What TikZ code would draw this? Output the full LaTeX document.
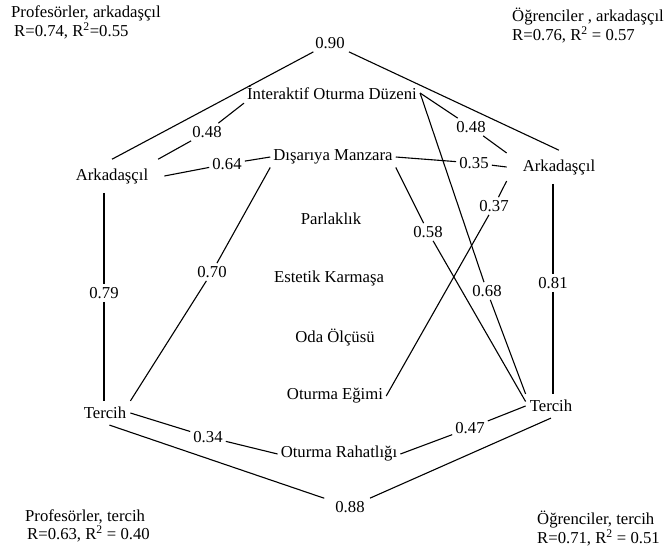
\documentclass[tikz,border=0pt]{standalone}
\usepackage{fontspec}
\setmainfont{Liberation Serif}

\begin{document}
\begin{tikzpicture}[x=1pt,y=-1pt,
	every node/.style={font=\fontsize{16.7}{17.5}\selectfont},
	factor/.style={inner xsep=3pt,inner ysep=3pt},
	side/.style={inner xsep=16pt,inner ysep=9pt},
	pref/.style={inner xsep=4pt,inner ysep=6pt},
	coef/.style={inner sep=3pt},
	corner/.style={anchor=north west,align=left,inner sep=0pt},
	link/.style={line width=1.1pt}]

	\useasboundingbox (0,0) rectangle (672,554);

	% outer factors
	\node[side] (lark) at (112,176) {Arkadaşçıl};
	\node[pref] (lter) at (105,413) {Tercih};
	\node[side] (rark) at (559,167) {Arkadaşçıl};
	\node[pref] (rter) at (551,406) {Tercih};

	% inner factors
	\node[factor] (inter) at (332,93) {İnteraktif Oturma Düzeni};
	\node[factor] (dis) at (333,157) {Dışarıya Manzara};
	\node[factor] (parl) at (331,219) {Parlaklık};
	\node[factor] (est) at (329,278) {Estetik Karmaşa};
	\node[factor] (oda) at (335,338) {Oda Ölçüsü};
	\node[factor] (egim) at (335,396) {Oturma Eğimi};
	\node[factor] (rah) at (339,454) {Oturma Rahatlığı};

	% coefficients
	\node[coef,inner xsep=14pt] (c90) at (330,43) {0.90};
	\node[coef,inner xsep=11pt] (c88) at (350,507) {0.88};
	\node[coef] (c79) at (104,293) {0.79};
	\node[coef] (c81) at (553,283) {0.81};
	\node[coef] (c48a) at (207,132) {0.48};
	\node[coef] (c64) at (227,164) {0.64};
	\node[coef] (c70) at (212,272) {0.70};
	\node[coef] (c48b) at (471,127) {0.48};
	\node[coef] (c35) at (474,163) {0.35};
	\node[coef] (c37) at (494,206) {0.37};
	\node[coef] (c58) at (428,232) {0.58};
	\node[coef] (c68) at (487,291) {0.68};
	\node[coef] (c34) at (208,437) {0.34};
	\node[coef] (c47) at (470,428) {0.47};

	% hexagon
	\draw[link] (lark.north) -- (c90) -- (rark.north);
	\draw[link] (c79 |- lark.south) -- (c79) -- (c79 |- lter.north);
	\draw[link] (c81 |- rark.south) -- (c81) -- (c81 |- rter.north);
	\draw[link] (lter.-70) -- (c88) -- (rter.south);

	% paths
	\draw[link] (inter.south west) -- (c48a) -- (lark.20);
	\draw[link] (dis.west) -- (c64) -- (lark.east);
	\draw[link] (dis.south west) -- (c70) -- (lter.north east);
	\draw[link] (inter.east) -- (c48b) -- (rark.165);
	\draw[link] (dis.east) -- (c35) -- (rark.west);
	\draw[link] (rark.195) -- (c37) -- (egim.east);
	\draw[link] (inter.east) -- (c68) -- (rter.north west);
	\draw[link] (dis.south east) -- (c58) -- (rter.170);
	\draw[link] (lter.east) -- (c34) -- (rah.west);
	\draw[link] (rah.east) -- (c47) -- (rter.west);

	% model fit
	\node[corner] (tl) at (11,6) {Profesörler, arkadaşçıl\\\hspace{3pt}R=0.74, R\textsuperscript{2}=0.55};
	\node[corner] (tr) at (512,8) {Öğrenciler , arkadaşçıl\\R=0.76, R\textsuperscript{2} = 0.57};
	\node[corner] (bl) at (25,510) {Profesörler, tercih\\\hspace{2pt}R=0.63, R\textsuperscript{2} = 0.40};
	\node[corner] (br) at (537,511) {Öğrenciler, tercih\\R=0.71, R\textsuperscript{2} = 0.51};

\end{tikzpicture}
\end{document}
